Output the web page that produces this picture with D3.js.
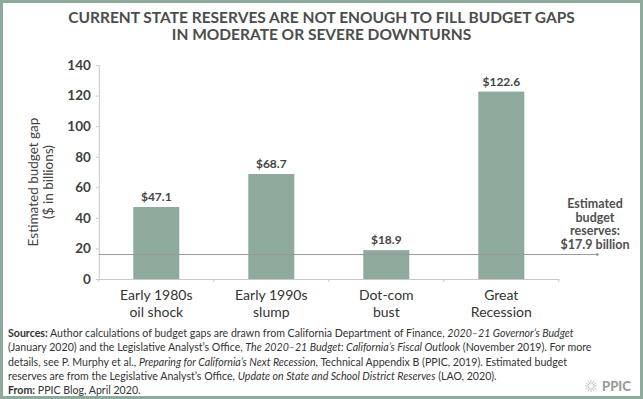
<!DOCTYPE html>
<html>
<head>
<meta charset="utf-8">
<script src="https://cdn.jsdelivr.net/npm/d3@7"></script>
<style>
  body { margin: 0; background: #fff; }
  svg { display: block; font-family: Lato, "Open Sans", sans-serif; }
</style>
</head>
<body>
<div id="chart"></div>
<script>
// chart values
var categories = [["Early 1980s", "oil shock"], ["Early 1990s", "slump"], ["Dot-com", "bust"], ["Great", "Recession"]];
var gaps = [47.1, 68.7, 18.9, 122.6];
var gapLabels = ["$47.1", "$68.7", "$18.9", "$122.6"];
var yTicks = [0, 20, 40, 60, 80, 100, 120, 140];
var reserveLevel = 16;   // where the reserve line sits in the picture
var reserveLabel = ["Estimated", "budget", "reserves:", "$17.9 billion"];
var titleLines = ["CURRENT STATE RESERVES ARE NOT ENOUGH TO FILL BUDGET GAPS", "IN MODERATE OR SEVERE DOWNTURNS"];
var yTitle = ["Estimated budget gap", "($ in billions)"];

var W = 643, H = 399;
var green = "#8eaa9c";

var svg = d3.select("#chart").append("svg")
    .attr("width", W)
    .attr("height", H);

// frame
svg.append("rect")
    .attr("x", 1.5).attr("y", 1.5)
    .attr("width", W - 3).attr("height", H - 3)
    .attr("fill", "#fff")
    .attr("stroke", green)
    .attr("stroke-width", 3);

// title
svg.append("g").selectAll("text")
    .data(titleLines)
    .join("text")
    .attr("x", W / 2)
    .attr("y", function(d, i) { return 23 + i * 17; })
    .attr("text-anchor", "middle")
    .attr("font-size", 15.5)
    .attr("font-weight", 700)
    .attr("fill", "#4a4d4c")
    .text(function(d) { return d; });

//Scales
var x = d3.scaleBand()
    .domain(d3.range(categories.length))
    .range([98.8, 558.8])
    .padding(0);

var y = d3.scaleLinear()
    .domain([0, 140])
    .range([279, 65]);

var barW = x.bandwidth() * 0.4;

//Axes
var yAxis = d3.axisLeft(y)
    .tickValues(yTicks)
    .tickSize(3)
    .tickPadding(5);

var gy = svg.append("g")
    .attr("transform", "translate(" + x.range()[0] + ",0)")
    .call(yAxis);
gy.select(".domain").attr("stroke", "#c8c8c8");
gy.selectAll(".tick line").attr("stroke", "#c8c8c8");
gy.selectAll(".tick text")
    .attr("font-size", 13.5)
    .attr("font-weight", 700)
    .attr("fill", "#3f3f3f")
    .attr("font-family", "Lato, sans-serif");

var xAxis = d3.axisBottom(x).tickSize(0).tickFormat("");
var gx = svg.append("g")
    .attr("transform", "translate(0," + y(0) + ")")
    .call(xAxis);
gx.select(".domain").attr("stroke", "#c8c8c8");
gx.selectAll(".tick").remove();

// tick marks at band edges
var edges = x.domain().map(function(d) { return x(d); }).concat([x.range()[1]]);
gx.selectAll("line.edge")
    .data(edges)
    .join("line")
    .attr("class", "edge")
    .attr("x1", function(d) { return d; })
    .attr("x2", function(d) { return d; })
    .attr("y1", 0).attr("y2", 3)
    .attr("stroke", "#c8c8c8");

// y title
svg.append("g")
    .attr("transform", "translate(0," + 182 + ") rotate(-90)")
    .selectAll("text")
    .data(yTitle)
    .join("text")
    .attr("x", 0)
    .attr("y", function(d, i) { return 38 + i * 15; })
    .attr("text-anchor", "middle")
    .attr("font-size", 13.5)
    .attr("fill", "#3f3f3f")
    .text(function(d) { return d; });

//Bars
svg.append("g").selectAll("rect")
    .data(gaps)
    .join("rect")
    .attr("x", function(d, i) { return x(i) + (x.bandwidth() - barW) / 2; })
    .attr("y", function(d) { return y(d); })
    .attr("width", barW)
    .attr("height", function(d) { return y(0) - y(d); })
    .attr("fill", green);

// value labels
svg.append("g").selectAll("text")
    .data(gaps)
    .join("text")
    .attr("x", function(d, i) { return x(i) + x.bandwidth() / 2; })
    .attr("y", function(d) { return y(d) - 6; })
    .attr("text-anchor", "middle")
    .attr("font-size", 12)
    .attr("font-weight", 700)
    .attr("fill", "#444")
    .text(function(d, i) { return gapLabels[i]; });

// category labels
var cat = svg.append("g").selectAll("text")
    .data(categories)
    .join("text")
    .attr("text-anchor", "middle")
    .attr("font-size", 14)
    .attr("fill", "#333");
cat.selectAll("tspan")
    .data(function(d, i) { return d.map(function(s) { return {s: s, i: i}; }); })
    .join("tspan")
    .attr("x", function(d) { return x(d.i) + x.bandwidth() / 2; })
    .attr("y", function(d, j) { return 300 + j * 16.5; })
    .text(function(d) { return d.s; });

//Reserve line
var lineEnd = x.range()[1] + 38.5;
svg.append("line")
    .attr("x1", x.range()[0])
    .attr("x2", lineEnd)
    .attr("y1", y(reserveLevel))
    .attr("y2", y(reserveLevel))
    .attr("stroke", "#999")
    .attr("stroke-width", 1);
svg.append("circle")
    .attr("cx", lineEnd)
    .attr("cy", y(reserveLevel))
    .attr("r", 1.3)
    .attr("fill", "#888");

svg.append("g").selectAll("text")
    .data(reserveLabel)
    .join("text")
    .attr("x", 595)
    .attr("y", function(d, i) { return 208 + i * 13.5; })
    .attr("text-anchor", "middle")
    .attr("font-size", 12.5)
    .attr("font-weight", 700)
    .attr("fill", "#505050")
    .text(function(d) { return d; });

//Footer
var notes = [
    [["b", "Sources:"], ["n", " Author calculations of budget gaps are drawn from California Department of Finance, "], ["i", "2020\u201321 Governor\u2019s Budget"]],
    [["n", "(January 2020) and the Legislative Analyst\u2019s Office, "], ["i", "The 2020\u201321 Budget: California\u2019s Fiscal Outlook"], ["n", " (November 2019). For more"]],
    [["n", "details, see P. Murphy et al., "], ["i", "Preparing for California\u2019s Next Recession"], ["n", ", Technical Appendix B (PPIC, 2019). Estimated budget"]],
    [["n", "reserves are from the Legislative Analyst\u2019s Office, "], ["i", "Update on State and School District Reserves"], ["n", " (LAO, 2020)."]],
    [["b", "From:"], ["n", " PPIC Blog, April 2020."]]
];

var foot = svg.append("g").selectAll("text")
    .data(notes)
    .join("text")
    .attr("x", 8)
    .attr("y", function(d, i) { return 337 + i * 14.3; })
    .attr("font-size", 10.6)
    .attr("fill", "#333");
foot.selectAll("tspan")
    .data(function(d) { return d; })
    .join("tspan")
    .attr("font-weight", function(d) { return d[0] == "b" ? 700 : 400; })
    .attr("font-style", function(d) { return d[0] == "i" ? "italic" : "normal"; })
    .text(function(d) { return d[1]; });

// logo
var logo = svg.append("g").attr("transform", "translate(591,386)");
for (var k = 0; k < 12; k++) {
    var a = k * Math.PI / 6;
    logo.append("line")
        .attr("x1", 2 * Math.cos(a)).attr("y1", 2 * Math.sin(a))
        .attr("x2", 6 * Math.cos(a)).attr("y2", 6 * Math.sin(a))
        .attr("stroke", "#b5b5b5")
        .attr("stroke-width", 0.8);
}
svg.append("text")
    .attr("x", 602)
    .attr("y", 391)
    .attr("font-size", 13)
    .attr("font-weight", 900)
    .attr("fill", "#9a9a9a")
    .text("PPIC");
</script>
</body>
</html>
